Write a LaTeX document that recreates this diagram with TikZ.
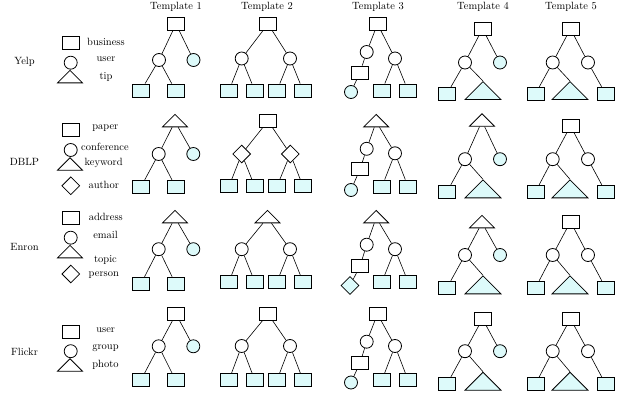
\documentclass[tikz,border=0pt]{standalone}
\usepackage{tikz}
\usetikzlibrary{shapes.geometric,positioning}
\definecolor{leafc}{RGB}{221,250,250}
\begin{document}
\begin{tikzpicture}[x=1pt,y=-1pt,font=\fontsize{10.5}{12}\selectfont]
\tikzstyle{bx}=[rectangle,draw=black,line width=0.8pt,
minimum width=17pt,minimum height=13pt,inner sep=0pt,fill=white]
\tikzstyle{ci}=[circle,draw=black,line width=0.8pt,
minimum size=13pt,inner sep=0pt,fill=white]
\tikzstyle{dm}=[diamond,draw=black,line width=0.8pt,
minimum size=18pt,inner sep=0pt,fill=white]
\tikzstyle{tri}=[isosceles triangle,isosceles triangle apex angle=90,
shape border rotate=90,draw=black,line width=0.8pt,inner sep=0pt,
minimum width=25pt,anchor=lower side,fill=white]
\tikzstyle{btri}=[tri,minimum width=36pt]
\tikzstyle{lf}=[fill=leafc]
\tikzstyle{ed}=[line width=0.6pt]
\useasboundingbox (0,0) rectangle (633,398);

% titles
\node (t1) at (176,7) {Template 1};
\node (t2) at (267,7) {Template 2};
\node (t3) at (378,7) {Template 3};
\node (t4) at (483,7) {Template 4};
\node (t5) at (571,7) {Template 5};

% Yelp
\node (yelp) at (24.5,62) {Yelp};
\node[bx] (yk1) at (70.5,42.7) {};
\node[ci] (yk2) at (70.7,62.7) {};
\node[tri] (yk3) at (70,83.3) {};
\node (yl1) at (106,42.3) {business};
\node (yl2) at (106,59.3) {user};
\node (yl3) at (106,77.3) {tip};

\node[bx] (y1r) at (176,24) {};
\node[ci] (y1a) at (159,60) {};
\node[ci,lf] (y1b) at (193.5,60) {};
\node[bx,lf] (y1c) at (141,90.5) {};
\node[bx,lf] (y1d) at (175.5,90.5) {};

\node[bx] (y2r) at (268,24) {};
\node[ci] (y2a) at (241.7,58.5) {};
\node[ci] (y2b) at (290,58.5) {};
\node[bx,lf] (y2c) at (229,90.5) {};
\node[bx,lf] (y2d) at (254.7,90.5) {};
\node[bx,lf] (y2e) at (277,90.5) {};
\node[bx,lf] (y2f) at (303,90.5) {};

\node[bx] (y3r) at (377.5,24) {};
\node[ci] (y3a) at (366.7,52) {};
\node[ci] (y3b) at (395,58.5) {};
\node[bx] (y3c) at (360,72.5) {};
\node[ci,lf] (y3d) at (351,92) {};
\node[bx,lf] (y3e) at (382,90.5) {};
\node[bx,lf] (y3f) at (408,90.5) {};

\node[bx] (y4r) at (482.5,28.7) {};
\node[ci] (y4a) at (465,62.5) {};
\node[ci,lf] (y4b) at (500,62.5) {};
\node[bx,lf] (y4c) at (447,93.7) {};
\node[btri,lf] (y4d) at (483,100) {};

\node[bx] (y5r) at (570.5,28.7) {};
\node[ci] (y5a) at (552.7,62.5) {};
\node[ci] (y5b) at (588,62.5) {};
\node[bx,lf] (y5c) at (535.5,93.7) {};
\node[btri,lf] (y5d) at (570,100) {};
\node[bx,lf] (y5e) at (605.5,93.7) {};

% DBLP
\node (dblp) at (24.5,161.7) {DBLP};
\node[bx] (dk1) at (70.5,130) {};
\node[ci] (dk2) at (70.7,150) {};
\node[tri] (dk3) at (70,170.7) {};
\node[dm] (dk4) at (70.8,185.8) {};
\node (dl1) at (105.3,128.3) {paper};
\node (dl2) at (105,146.7) {conference};
\node (dl3) at (103.7,163.3) {keyword};
\node (dl4) at (103.7,185) {author};

\node[tri] (d1r) at (175,127.3) {};
\node[ci] (d1a) at (158.7,154) {};
\node[ci,lf] (d1b) at (193.3,154) {};
\node[bx,lf] (d1c) at (141,186.7) {};
\node[bx,lf] (d1d) at (175.5,186.7) {};

\node[bx] (d2r) at (268,121) {};
\node[dm] (d2a) at (241.7,154) {};
\node[dm] (d2b) at (290.3,154) {};
\node[bx,lf] (d2c) at (229,186.3) {};
\node[bx,lf] (d2d) at (254.7,186.3) {};
\node[bx,lf] (d2e) at (277,186.3) {};
\node[bx,lf] (d2f) at (303,186.3) {};

\node[tri] (d3r) at (376.2,127.3) {};
\node[ci] (d3a) at (366.7,148.8) {};
\node[ci] (d3b) at (395,153.3) {};
\node[bx] (d3c) at (360,169.3) {};
\node[ci,lf] (d3d) at (351,190) {};
\node[bx,lf] (d3e) at (382,186.5) {};
\node[bx,lf] (d3f) at (408,186.5) {};

\node[tri] (d4r) at (482,126.7) {};
\node[ci] (d4a) at (465,159.2) {};
\node[ci,lf] (d4b) at (500,159.2) {};
\node[bx,lf] (d4c) at (447,191.7) {};
\node[btri,lf] (d4d) at (483,198.3) {};

\node[bx] (d5r) at (570.5,126) {};
\node[ci] (d5a) at (552.7,159.2) {};
\node[ci] (d5b) at (588,159.2) {};
\node[bx,lf] (d5c) at (535.5,191.7) {};
\node[btri,lf] (d5d) at (570,198.3) {};
\node[bx,lf] (d5e) at (605.5,191.7) {};

% Enron
\node (enron) at (24.5,246.7) {Enron};
\node[bx] (ek1) at (70.5,217.7) {};
\node[ci] (ek2) at (70.7,237.7) {};
\node[tri] (ek3) at (70,258.3) {};
\node[dm] (ek4) at (70.8,274) {};
\node (el1) at (105.8,217.3) {address};
\node (el2) at (105.5,235) {email};
\node (el3) at (105.5,260) {topic};
\node (el4) at (103.8,275) {person};

\node[tri] (e1r) at (175,223.3) {};
\node[ci] (e1a) at (158.7,249.2) {};
\node[ci,lf] (e1b) at (193.3,249.2) {};
\node[bx,lf] (e1c) at (141,283.7) {};
\node[bx,lf] (e1d) at (175.5,283.7) {};

\node[tri] (e2r) at (267.5,223.3) {};
\node[ci] (e2a) at (241.7,249.2) {};
\node[ci] (e2b) at (290,249.2) {};
\node[bx,lf] (e2c) at (229,281.7) {};
\node[bx,lf] (e2d) at (254.7,281.7) {};
\node[bx,lf] (e2e) at (277,281.7) {};
\node[bx,lf] (e2f) at (303,281.7) {};

\node[tri] (e3r) at (376.2,223.3) {};
\node[ci] (e3a) at (366.7,244.7) {};
\node[ci] (e3b) at (395,249.2) {};
\node[bx] (e3c) at (360,266.2) {};
\node[dm,lf] (e3d) at (350,285.5) {};
\node[bx,lf] (e3e) at (382,281.7) {};
\node[bx,lf] (e3f) at (408,281.7) {};

\node[tri] (e4r) at (482,228.3) {};
\node[ci] (e4a) at (465,255) {};
\node[ci,lf] (e4b) at (500,255) {};
\node[bx,lf] (e4c) at (447,287.7) {};
\node[btri,lf] (e4d) at (483,294.3) {};

\node[bx] (e5r) at (570.5,221.7) {};
\node[ci] (e5a) at (552.7,255) {};
\node[ci] (e5b) at (588,255) {};
\node[bx,lf] (e5c) at (535.5,287.7) {};
\node[btri,lf] (e5d) at (570,294.3) {};
\node[bx,lf] (e5e) at (605.5,287.7) {};

% Flickr
\node (flickr) at (24.5,351.7) {Flickr};
\node[bx] (fk1) at (70.5,331.7) {};
\node[ci] (fk2) at (70.7,351.2) {};
\node[tri] (fk3) at (70,371.7) {};
\node (fl1) at (105.7,330.7) {user};
\node (fl2) at (105.5,348.3) {group};
\node (fl3) at (105.5,365) {photo};

\node[bx] (f1r) at (176,314) {};
\node[ci] (f1a) at (158.7,346.3) {};
\node[ci,lf] (f1b) at (193.3,346.3) {};
\node[bx,lf] (f1c) at (141,380) {};
\node[bx,lf] (f1d) at (175.5,380) {};

\node[bx] (f2r) at (268,314) {};
\node[ci] (f2a) at (241.7,346) {};
\node[ci] (f2b) at (290,346) {};
\node[bx,lf] (f2c) at (229,380) {};
\node[bx,lf] (f2d) at (254.7,380) {};
\node[bx,lf] (f2e) at (277,380) {};
\node[bx,lf] (f2f) at (303,380) {};

\node[bx] (f3r) at (377.5,314) {};
\node[ci] (f3a) at (366.7,341.7) {};
\node[ci] (f3b) at (395,346) {};
\node[bx] (f3c) at (360,363) {};
\node[ci,lf] (f3d) at (351,382.5) {};
\node[bx,lf] (f3e) at (382,380) {};
\node[bx,lf] (f3f) at (408,380) {};

\node[bx] (f4r) at (482.5,318.8) {};
\node[ci] (f4a) at (465,351.2) {};
\node[ci,lf] (f4b) at (500,351.2) {};
\node[bx,lf] (f4c) at (447,384) {};
\node[btri,lf] (f4d) at (483,390.7) {};

\node[bx] (f5r) at (570.5,318.8) {};
\node[ci] (f5a) at (552.7,351.2) {};
\node[ci] (f5b) at (588,351.2) {};
\node[bx,lf] (f5c) at (535.5,384) {};
\node[btri,lf] (f5d) at (570,390.7) {};
\node[bx,lf] (f5e) at (605.5,384) {};

\foreach \r in {y,d,e,f} {
\path[ed] (\r1r) edge (\r1a) edge (\r1b);
\path[ed] (\r1a) edge (\r1c) edge (\r1d);
\path[ed] (\r2r) edge (\r2a) edge (\r2b);
\path[ed] (\r2a) edge (\r2c) edge (\r2d);
\path[ed] (\r2b) edge (\r2e) edge (\r2f);
\path[ed] (\r3r) edge (\r3a) edge (\r3b);
\path[ed] (\r3a) edge (\r3c);
\path[ed] (\r3c) edge (\r3d);
\path[ed] (\r3b) edge (\r3e) edge (\r3f);
\path[ed] (\r4r) edge (\r4a) edge (\r4b);
\path[ed] (\r4a) edge (\r4c) edge (\r4d.apex);
\path[ed] (\r5r) edge (\r5a) edge (\r5b);
\path[ed] (\r5a) edge (\r5c) edge (\r5d.apex);
\path[ed] (\r5b) edge (\r5e);
}

\end{tikzpicture}
\end{document}
